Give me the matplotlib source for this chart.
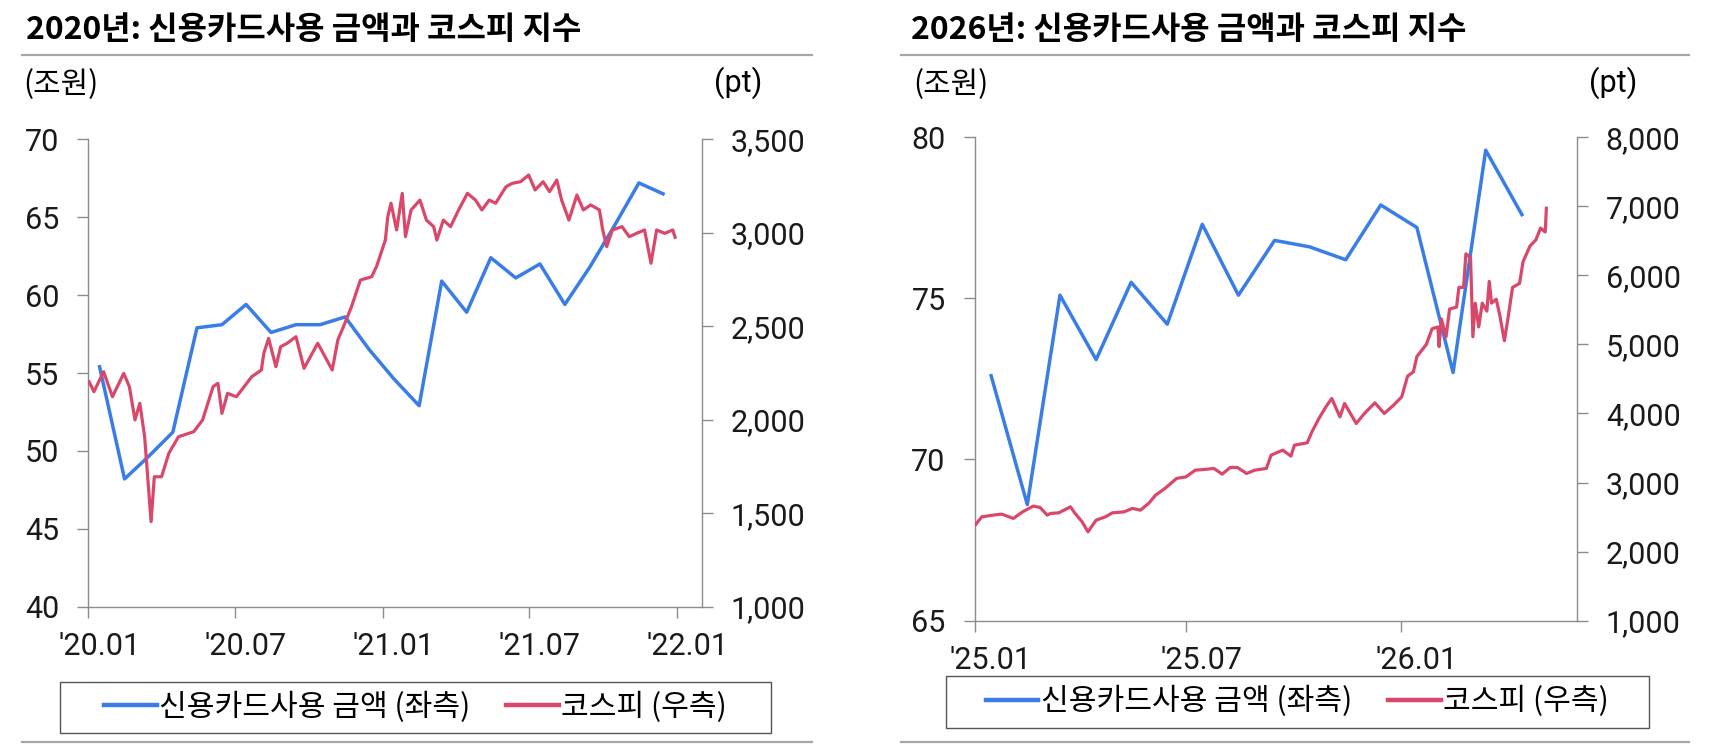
"""신용카드사용 금액과 코스피 지수 (2020년 / 2026년)"""
import matplotlib
matplotlib.use('Agg')
import matplotlib.pyplot as plt
import matplotlib.dates as mdates
import matplotlib.ticker as mticker
import matplotlib.transforms as mtransforms
from matplotlib.lines import Line2D
from matplotlib.patches import Rectangle
import pandas as pd

NUM_FONT = ['Roboto', 'Noto Sans CJK KR', 'DejaVu Sans']
KR_FONT = ['Noto Sans CJK KR', 'DejaVu Sans']
plt.rcParams['font.family'] = NUM_FONT

BLUE = '#3a7de6'
RED = '#d9486a'
GRAY = '#8c8c8c'

# ---- 2020 패널 데이터 ----
card_20_months = pd.date_range('2020-01-01', periods=24, freq='MS') + pd.Timedelta(days=14)
card_20_vals = [55.4, 48.2, 49.6, 51.2, 57.9, 58.1, 59.4, 57.6, 58.1, 58.1, 58.6, 56.5,
                54.6, 52.9, 60.9, 58.9, 62.4, 61.1, 62.0, 59.4, 61.8, 64.4, 67.2, 66.5]

kospi_20_dates = ['2020-01-02', '2020-01-08', '2020-01-20', '2020-01-31', '2020-02-14', '2020-02-21',
                  '2020-02-28', '2020-03-05', '2020-03-11', '2020-03-19', '2020-03-23', '2020-04-01',
                  '2020-04-10', '2020-04-22', '2020-05-11', '2020-05-22', '2020-06-04', '2020-06-10',
                  '2020-06-15', '2020-06-22', '2020-07-03', '2020-07-22', '2020-08-03', '2020-08-06',
                  '2020-08-12', '2020-08-21', '2020-08-27', '2020-09-04', '2020-09-15', '2020-09-25',
                  '2020-10-12', '2020-10-20', '2020-10-30', '2020-11-06', '2020-11-13', '2020-11-23',
                  '2020-12-04', '2020-12-18', '2020-12-24', '2021-01-04', '2021-01-07', '2021-01-11',
                  '2021-01-18', '2021-01-25', '2021-01-29', '2021-02-05', '2021-02-16', '2021-02-24',
                  '2021-03-05', '2021-03-09', '2021-03-17', '2021-03-26', '2021-04-05', '2021-04-16',
                  '2021-04-26', '2021-05-04', '2021-05-13', '2021-05-21', '2021-06-03', '2021-06-11',
                  '2021-06-21', '2021-07-01', '2021-07-09', '2021-07-19', '2021-07-27', '2021-08-05',
                  '2021-08-11', '2021-08-20', '2021-08-30', '2021-09-07', '2021-09-16', '2021-09-27',
                  '2021-10-01', '2021-10-06', '2021-10-13', '2021-10-25', '2021-11-03', '2021-11-12',
                  '2021-11-22', '2021-11-30', '2021-12-07', '2021-12-17', '2021-12-27', '2021-12-30']
kospi_20_vals = [2203, 2150, 2257, 2123, 2248, 2177, 1999, 2088, 1909, 1455, 1695, 1695,
                 1820, 1909, 1936, 1999, 2177, 2195, 2034, 2141, 2123, 2230, 2266, 2355,
                 2435, 2284, 2391, 2409, 2444, 2275, 2409, 2346, 2266, 2427, 2498, 2605,
                 2747, 2765, 2819, 2961, 3086, 3158, 3015, 3211, 2979, 3122, 3175, 3068,
                 3033, 2961, 3068, 3033, 3122, 3211, 3175, 3122, 3175, 3158, 3247, 3265,
                 3273, 3309, 3229, 3273, 3220, 3282, 3175, 3068, 3202, 3122, 3149, 3122,
                 3015, 2926, 3015, 3033, 2979, 2997, 3015, 2837, 3015, 2997, 3015, 2976]

# ---- 2026 패널 데이터 ----
card_26_months = pd.date_range('2025-01-01', periods=16, freq='MS') + pd.Timedelta(days=14)
card_26_vals = [72.6, 68.6, 75.1, 73.1, 75.5, 74.2, 77.3, 75.1, 76.8, 76.6, 76.2, 77.9,
                77.2, 72.7, 79.6, 77.6]

kospi_26_dates = ['2025-01-02', '2025-01-07', '2025-01-17', '2025-01-24', '2025-02-03', '2025-02-11',
                  '2025-02-20', '2025-02-26', '2025-03-04', '2025-03-07', '2025-03-14', '2025-03-24',
                  '2025-03-28', '2025-04-03', '2025-04-08', '2025-04-15', '2025-04-23', '2025-04-29',
                  '2025-05-09', '2025-05-16', '2025-05-23', '2025-05-30', '2025-06-05', '2025-06-13',
                  '2025-06-23', '2025-07-01', '2025-07-09', '2025-07-17', '2025-07-25', '2025-08-01',
                  '2025-08-08', '2025-08-14', '2025-08-22', '2025-08-29', '2025-09-08', '2025-09-12',
                  '2025-09-22', '2025-09-29', '2025-10-02', '2025-10-13', '2025-10-17', '2025-10-23',
                  '2025-10-29', '2025-11-03', '2025-11-10', '2025-11-14', '2025-11-19', '2025-11-24',
                  '2025-12-01', '2025-12-10', '2025-12-18', '2025-12-26', '2026-01-02', '2026-01-07',
                  '2026-01-12', '2026-01-15', '2026-01-23', '2026-01-28', '2026-02-02', '2026-02-03',
                  '2026-02-05', '2026-02-09', '2026-02-12', '2026-02-18', '2026-02-20', '2026-02-24',
                  '2026-02-26', '2026-03-02', '2026-03-04', '2026-03-06', '2026-03-09', '2026-03-12',
                  '2026-03-16', '2026-03-18', '2026-03-20', '2026-03-24', '2026-03-27', '2026-03-31',
                  '2026-04-03', '2026-04-07', '2026-04-13', '2026-04-16', '2026-04-22', '2026-04-27',
                  '2026-05-01', '2026-05-05', '2026-05-06']
kospi_26_vals = [2397, 2503, 2528, 2542, 2480, 2575, 2658, 2639, 2528, 2552, 2561, 2648,
                 2552, 2431, 2286, 2455, 2503, 2561, 2575, 2625, 2600, 2697, 2817, 2914,
                 3059, 3082, 3179, 3189, 3204, 3121, 3218, 3218, 3131, 3179, 3204, 3397,
                 3469, 3382, 3541, 3575, 3734, 3928, 4096, 4218, 3951, 4145, 4000, 3855,
                 4000, 4154, 4000, 4120, 4241, 4540, 4603, 4826, 4997, 5226, 5254, 4969,
                 5369, 5111, 5512, 5541, 5826, 5826, 6313, 6256, 5111, 5598, 5254, 5598,
                 5483, 5913, 5598, 5655, 5427, 5054, 5369, 5826, 5884, 6198, 6427, 6514,
                 6685, 6628, 6972]

LABEL_CARD = '신용카드사용 금액 (좌측)'
LABEL_KOSPI = '코스피 (우측)'
FS = 22
W, H = 1710, 754


def _fx(px):
    return px / W


def _fy(py):
    return 1 - py / H


def _style_axis(ax):
    ax.spines['top'].set_visible(False)
    for side in ['left', 'right', 'bottom']:
        ax.spines[side].set_color(GRAY)
        ax.spines[side].set_linewidth(1.0)
    ax.tick_params(axis='both', colors=GRAY, direction='out', length=8, width=1.0,
                   labelcolor='#1a1a1a', labelsize=FS)


def _panel(fig, box, title, title_x, card_x, card_y, k_dates, k_vals,
           ylim_l, yticks_l, ylim_r, yticks_r, xlim, xticks, xlabel_shift):
    x0, y0, x1, y1 = box
    ax = fig.add_axes([_fx(x0), _fy(y1), _fx(x1 - x0), (y1 - y0) / H])
    ax2 = ax.twinx()
    ax.plot(card_x, card_y, color=BLUE, lw=2.5, label=LABEL_CARD)
    ax2.plot(pd.to_datetime(k_dates), k_vals, color=RED, lw=2.3, label=LABEL_KOSPI)

    ax.set_ylim(*ylim_l)
    ax.set_yticks(yticks_l)
    ax2.set_ylim(*ylim_r)
    ax2.set_yticks(yticks_r)
    ax2.yaxis.set_major_formatter(mticker.FuncFormatter(lambda v, p: f'{v:,.0f}'))
    ax.set_xlim(pd.Timestamp(xlim[0]), pd.Timestamp(xlim[1]))
    ax.set_xticks(pd.to_datetime(xticks))
    ax.xaxis.set_major_formatter(mdates.DateFormatter("'%y.%m"))

    _style_axis(ax)
    _style_axis(ax2)
    ax2.spines['left'].set_visible(False)
    ax2.spines['bottom'].set_visible(False)
    ax.spines['right'].set_visible(False)
    ax.tick_params(axis='y', pad=13)
    ax.tick_params(axis='x', pad=10)
    ax2.tick_params(axis='y', pad=13)

    shift = mtransforms.ScaledTranslation(xlabel_shift / 100, 0, fig.dpi_scale_trans)
    for lbl in ax.get_xticklabels():
        lbl.set_transform(lbl.get_transform() + shift)

    fig.text(title_x, _fy(30), title, fontsize=23, fontweight='bold', family=KR_FONT,
             va='center', ha='left')
    return ax, ax2


fig = plt.figure(figsize=(17.1, 7.54), dpi=100)

ax_a, ax_a2 = _panel(fig, (88.3, 139.3, 701.7, 606.7), '2020년: 신용카드사용 금액과 코스피 지수', _fx(26),
                     card_20_months, card_20_vals, kospi_20_dates, kospi_20_vals,
                     (40, 70), [40, 45, 50, 55, 60, 65, 70], (1000, 3500),
                     [1000, 1500, 2000, 2500, 3000, 3500],
                     ('2020-01-01', '2022-02-01'),
                     ['2020-01-01', '2020-07-01', '2021-01-01', '2021-07-01', '2022-01-01'], 11)
ax_b, ax_b2 = _panel(fig, (974.8, 137.3, 1576.7, 620.6), '2026년: 신용카드사용 금액과 코스피 지수', _fx(911),
                     card_26_months, card_26_vals, kospi_26_dates, kospi_26_vals,
                     (65, 80), [65, 70, 75, 80], (1000, 8000),
                     [1000, 2000, 3000, 4000, 5000, 6000, 7000, 8000],
                     ('2025-01-01', '2026-06-01'),
                     ['2025-01-01', '2025-07-01', '2026-01-01'], 16)

# 단위 표시
fig.text(_fx(23), _fy(85), '(조원)', fontsize=FS - 0.5, family=KR_FONT, va='center', ha='left')
fig.text(_fx(913), _fy(85), '(조원)', fontsize=FS - 0.5, family=KR_FONT, va='center', ha='left')
fig.text(_fx(714), _fy(83), '(pt)', fontsize=FS, va='center', ha='left')
fig.text(_fx(1589), _fy(83), '(pt)', fontsize=FS, va='center', ha='left')

# 제목 밑줄, 하단선
for x0, x1 in [(22, 812), (901, 1689)]:
    fig.add_artist(Line2D([_fx(x0), _fx(x1)], [_fy(55), _fy(55)], transform=fig.transFigure,
                          color='#a6a6a6', lw=1.6))
    fig.add_artist(Line2D([_fx(x0), _fx(x1)], [_fy(741.7), _fy(741.7)], transform=fig.transFigure,
                          color='#a6a6a6', lw=1.6))

# 범례 (테두리는 따로 그림)
for ax, ax2, (bx0, by0, bx1, by1) in [(ax_a, ax_a2, (60, 681.7, 771, 733)),
                                      (ax_b, ax_b2, (945.7, 676, 1649, 727.7))]:
    fig.add_artist(Rectangle((_fx(bx0), _fy(by1)), _fx(bx1 - bx0), (by1 - by0) / H,
                             transform=fig.transFigure, fill=False, edgecolor='#555555', lw=1.0))
    h1, l1 = ax.get_legend_handles_labels()
    h2, l2 = ax2.get_legend_handles_labels()
    leg = fig.legend(h1 + h2, l1 + l2, loc='center',
                     bbox_to_anchor=(_fx((bx0 + bx1) / 2), _fy((by0 + by1) / 2)), ncol=2,
                     prop={'family': KR_FONT, 'size': 21.7}, frameon=False, handlelength=1.75,
                     handletextpad=0.08, columnspacing=1.2, borderpad=0, borderaxespad=0)
    for ln in leg.get_lines():
        ln.set_linewidth(3.2)

fig.savefig('out.png', dpi=100)
plt.close(fig)
